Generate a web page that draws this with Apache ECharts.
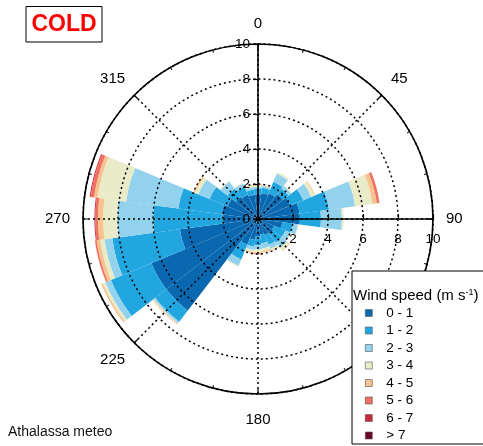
<!DOCTYPE html>
<html>
<head>
  <meta charset="utf-8">
  <title>Athalassa wind rose - COLD</title>
  <style>
  html, body { margin: 0; padding: 0; background: #fff; }
  #main { width: 483px; height: 446px; }
  </style>
</head>
<body>
  <div id="main"></div>
  <script src="https://cdn.jsdelivr.net/npm/echarts@6/dist/echarts.min.js"></script>
  <script>
  // direction bins of 15 degrees, centred on the value
  const directions = ['0', '15', '30', '45', '60', '75', '90', '105', '120', '135', '150', '165',
    '180', '195', '210', '225', '240', '255', '270', '285', '300', '315', '330', '345'];
  const speedBins = ['0 - 1', '1 - 2', '2 - 3', '3 - 4', '4 - 5', '5 - 6', '6 - 7', '> 7'];
  const binColors = ['#0a68b0', '#22a6e0', '#93d2ec', '#e9ebc9', '#f7c38e', '#ee7161', '#c9283d', '#690522'];

  // frequency (%) of each speed class per direction
  const ws0_1 = [1.4, 1.5, 1.6, 1.8, 2.0, 2.4, 2.4, 1.4, 1.0, 1.1, 1.0, 0.9, 1.0, 1.2, 1.6, 6.6, 6.6, 4.5, 2.0, 2.1, 1.9, 1.6, 1.5, 1.4];
  const ws1_2 = [0.35, 0.3, 0.7, 0.4, 0.8, 1.7, 1.2, 0.6, 0.7, 0.6, 0.6, 0.5, 0.5, 0.4, 0.9, 0.8, 2.5, 3.9, 4.0, 2.5, 1.1, 0.6, 0.5, 0.3];
  const ws2_3 = [0.1, 0.1, 0.5, 0.2, 0.5, 1.5, 1.2, 0.3, 0.3, 0.4, 0.25, 0.3, 0.25, 0.2, 0.4, 0.1, 0.35, 0.45, 2.05, 3.0, 0.7, 0.5, 0.2, 0.15];
  const ws3_4 = [0.07, 0.05, 0.1, 0.05, 0.2, 1.0, 0.1, 0.05, 0.05, 0.15, 0.1, 0.15, 0.15, 0.1, 0.05, 0.05, 0.15, 0.25, 0.8, 1.65, 0.2, 0.05, 0.05, 0.07];
  const ws4_5 = [0.05, 0.03, 0, 0, 0.05, 0.25, 0, 0, 0, 0.05, 0.05, 0.1, 0.07, 0.05, 0, 0.05, 0.1, 0.2, 0.3, 0.2, 0.1, 0, 0, 0.05];
  const ws5_6 = [0.02, 0, 0, 0, 0, 0.15, 0, 0, 0, 0, 0, 0, 0.03, 0.02, 0, 0, 0, 0.1, 0.15, 0.2, 0, 0, 0, 0];
  const ws6_7 = [0, 0, 0, 0, 0, 0, 0, 0, 0, 0, 0, 0, 0.02, 0, 0, 0, 0, 0, 0.05, 0.05, 0, 0, 0, 0];
  const ws7up = [0, 0, 0, 0, 0, 0, 0, 0, 0, 0, 0, 0, 0, 0, 0, 0, 0, 0, 0, 0, 0, 0, 0, 0];
  const speedData = [ws0_1, ws1_2, ws2_3, ws3_4, ws4_5, ws5_6, ws6_7, ws7up];

  const radialTicks = [0, 2, 4, 6, 8, 10];

  const font = 'Liberation Sans, Arial, sans-serif';
  const center = [258, 219];
  const radius = 175;
  const dots = [2, 3];

  let myChart = echarts.init(document.getElementById('main'), null, { renderer: 'canvas' });

  let option = {
    animation: false,
    backgroundColor: '#fff',
    title: [{
      text: 'Wind speed (m s{sup|-1})',
      left: 353,
      top: 288,
      padding: 0,
      z: 40,
      textStyle: {
        fontFamily: font, fontSize: 15, fontWeight: 'normal', color: '#000',
        rich: { sup: { fontFamily: font, fontSize: 9, verticalAlign: 'top', padding: [0, 0, 6, 0], color: '#000' } }
      }
    }],
    legend: {
      orient: 'vertical',
      left: 365,
      top: 304.5,
      padding: 0,
      itemGap: 0.5,
      itemWidth: 7,
      itemHeight: 7,
      icon: 'rect',
      z: 40,
      selectedMode: false,
      itemStyle: { borderColor: '#555', borderWidth: 0.6 },
      textStyle: { fontFamily: font, fontSize: 13.5, color: '#000', lineHeight: 17, padding: [0, 0, 0, 9] },
      data: speedBins
    },
    polar: [
      { center: center, radius: radius },
      { center: center, radius: radius },
      { center: center, radius: radius }
    ],
    angleAxis: [{
      polarIndex: 0,
      type: 'category',
      data: directions,
      startAngle: 97.5,
      clockwise: true,
      show: false
    }, {
      polarIndex: 1,
      type: 'value',
      min: 0,
      max: 360,
      interval: 45,
      startAngle: 90,
      clockwise: true,
      z: 10,
      axisLine: { lineStyle: { color: '#000', width: 1.6 } },
      axisTick: { show: true, inside: true, length: 5, lineStyle: { color: '#000', width: 1.2 } },
      minorTick: { show: true, splitNumber: 3, length: 3, lineStyle: { color: '#000', width: 1 } },
      splitLine: { show: true, lineStyle: { color: '#000', width: 1.5, type: dots } },
      axisLabel: {
        margin: 13, fontFamily: font, fontSize: 15, color: '#000',
        formatter: v => (v === 360 ? '' : v === 180 ? '{low|180}' : String(v)),
        rich: { low: { fontFamily: font, fontSize: 15, color: '#000', padding: [5, 0, 0, 0] } }
      }
    }, {
      polarIndex: 2,
      type: 'value',
      min: 0,
      max: 360,
      startAngle: 0,
      show: false
    }],
    radiusAxis: [{
      polarIndex: 0,
      min: 0,
      max: 10,
      show: false
    }, {
      polarIndex: 1,
      min: radialTicks[0],
      max: radialTicks[radialTicks.length - 1],
      interval: 2,
      z: 11,
      axisLine: { lineStyle: { color: '#000', width: 1.6 } },
      axisTick: { show: true, length: 5, lineStyle: { color: '#000', width: 1.2 } },
      splitLine: { show: true, lineStyle: { color: '#000', width: 1.5, type: dots } },
      axisLabel: { margin: 8, fontFamily: font, fontSize: 13.5, color: '#000' }
    }, {
      polarIndex: 2,
      min: radialTicks[0],
      max: radialTicks[radialTicks.length - 1],
      interval: 2,
      z: 11,
      axisLine: { lineStyle: { color: '#000', width: 1.6 } },
      axisTick: { show: true, length: 5, lineStyle: { color: '#000', width: 1.2 } },
      splitLine: { show: false },
      axisLabel: {
        margin: -13, verticalAlign: 'top', align: 'center', showMinLabel: false,
        fontFamily: font, fontSize: 13.5, color: '#000'
      }
    }],
    graphic: [{
      type: 'rect',
      z: 30,
      shape: { x: 352, y: 271, width: 140, height: 173 },
      style: { fill: '#fff', stroke: '#000', lineWidth: 1 }
    }, {
      type: 'rect',
      z: 30,
      shape: { x: 26, y: 6.5, width: 76, height: 35.5 },
      style: { fill: '#fff', stroke: '#000', lineWidth: 1 }
    }, {
      type: 'text',
      z: 31,
      x: 64,
      y: 25,
      style: {
        text: 'COLD', fill: '#ff0000', font: 'bold 23px ' + font,
        align: 'center', verticalAlign: 'middle'
      }
    }, {
      type: 'text',
      z: 31,
      x: 8,
      y: 432,
      style: {
        text: 'Athalassa meteo', fill: '#111', font: '14px ' + font,
        align: 'left', verticalAlign: 'middle'
      }
    }, {
      // hub of the polar axes
      type: 'circle',
      z: 25,
      shape: { cx: center[0], cy: center[1], r: 2.5 },
      style: { fill: '#000' }
    }],
    series: speedBins.map((name, i) => ({
      name: name,
      type: 'bar',
      coordinateSystem: 'polar',
      polarIndex: 0,
      stack: 'speed',
      barCategoryGap: '0%',
      itemStyle: { color: binColors[i] },
      emphasis: { disabled: true },
      data: speedData[i]
    }))
  };

  myChart.setOption(option);
  </script>
</body>
</html>
